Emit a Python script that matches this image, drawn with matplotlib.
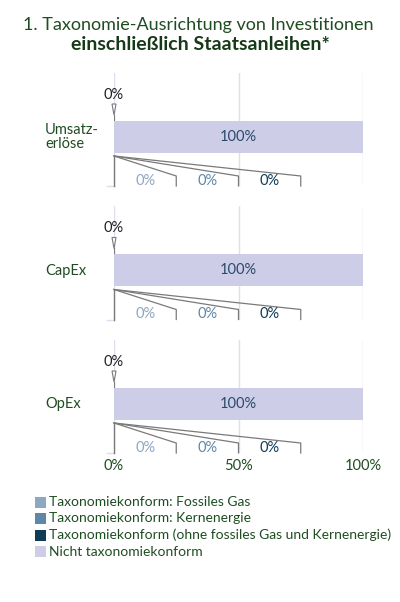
import matplotlib.pyplot as plt
from matplotlib.patches import Rectangle

plt.rcParams['font.family'] = ['Lato', 'DejaVu Sans']

# data
categories = ["Umsatz-\nerlöse", "CapEx", "OpEx"]
aligned_total = [0, 0, 0]          # small callout above bar
not_aligned = [100, 100, 100]      # Nicht taxonomiekonform
fossil_gas = [0, 0, 0]
nuclear = [0, 0, 0]
other_aligned = [0, 0, 0]
xticks = [0, 50, 100]
xtick_labels = ["0%", "50%", "100%"]
legend_labels = ["Taxonomiekonform: Fossiles Gas",
                 "Taxonomiekonform: Kernenergie",
                 "Taxonomiekonform (ohne fossiles Gas und Kernenergie)",
                 "Nicht taxonomiekonform"]

C_GAS = "#8fa8c2"
C_NUC = "#5f87a8"
C_OTHER = "#0f3b57"
C_NOT = "#cdcde8"
GREEN = "#1f4d22"
GRID = "#dedef0"
LINE = "#7a7a7a"

W, H = 400, 602
fig = plt.figure(figsize=(W / 100, H / 100), dpi=100)

fig.text(198 / W, 1 - 25 / H, "1. Taxonomie-Ausrichtung von Investitionen",
         ha="center", va="center", fontsize=13, color=GREEN)
fig.text(200 / W, 1 - 44 / H, "einschließlich Staatsanleihen*",
         ha="center", va="center", fontsize=14, color="#163a18", fontweight="bold")

x0, x1 = 114, 363
panel_tops = [73, 206.5, 340]
ph = 113

for i, top in enumerate(panel_tops):
    ax = fig.add_axes([x0 / W, 1 - (top + ph) / H, (x1 - x0) / W, ph / H])
    ax.set_xlim(0, 100)
    ax.set_ylim(ph, 0)
    for s in ax.spines.values():
        s.set_visible(False)
    ax.set_yticks([])
    for g in xticks:
        ax.axvline(g, color=GRID, lw=1, zorder=0)
    # small aligned callout (0%)
    a = aligned_total[i]
    ax.fill([a - 0.8, a + 0.8, a], [31, 31, 42], facecolor="white",
            edgecolor=LINE, lw=0.8, zorder=3, clip_on=False)
    ax.plot([a, a], [42, 47], color=LINE, lw=0.8, zorder=3)
    ax.text(a, 22, f"{a}%", ha="center", va="center", fontsize=10.5,
            color="#222222")
    # main bar
    ax.barh(64, not_aligned[i], height=32, color=C_NOT, zorder=2)
    ax.text(not_aligned[i] / 2, 64, f"{not_aligned[i]}%", ha="center",
            va="center", fontsize=10.5, color="#2b4a6b", zorder=4)
    # zoomed breakdown of aligned share
    parts = [(fossil_gas[i], C_GAS), (nuclear[i], C_NUC), (other_aligned[i], C_OTHER)]
    ax.plot([0, 0], [83, ph], color=LINE, lw=1, zorder=3, clip_on=False)
    ax.plot([-2.8, 0], [ph, ph], color=GRID, lw=1, clip_on=False)
    for j, (v, c) in enumerate(parts):
        xe = 25 * (j + 1)
        ax.plot([0, xe, xe], [83, 103, ph], color=LINE, lw=0.9, zorder=3,
                clip_on=False)
        ax.text(25 * j + 12.5, 108, f"{v}%", ha="center", va="center",
                fontsize=10.5, color=c, zorder=4)
    ax.set_xticks([])
    fig.text(45 / W, 1 - (top + 64) / H, categories[i], ha="left",
             va="center", fontsize=10.5, color=GREEN, linespacing=0.95)
    if i == len(panel_tops) - 1:
        for t, lab in zip(xticks, xtick_labels):
            ax.text(t, ph + 13, lab, ha="center", va="center", fontsize=10.5,
                    color=GREEN, clip_on=False)

# legend
colors = [C_GAS, C_NUC, C_OTHER, C_NOT]
for k, (lab, c) in enumerate(zip(legend_labels, colors)):
    y = 502 + k * 16.5
    fig.patches.append(Rectangle((35 / W, 1 - (y + 5.5) / H), 11 / W, 11 / H,
                                 transform=fig.transFigure, facecolor=c,
                                 edgecolor="none"))
    fig.text(49 / W, 1 - y / H, lab, ha="left", va="center", fontsize=10,
             color=GREEN)

fig.savefig("out.png", dpi=100)
